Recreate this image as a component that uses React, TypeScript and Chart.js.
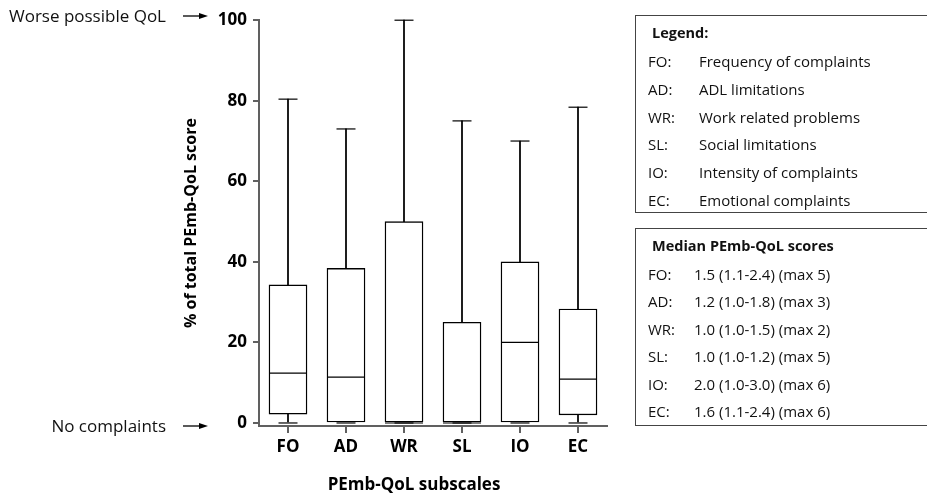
import React, { useEffect, useRef } from 'react';
import { Chart, registerables } from 'chart.js';

Chart.register(...registerables);

const categories = ['FO', 'AD', 'WR', 'SL', 'IO', 'EC'];
const minValues = [0, 0, 0, 0, 0, 0];
const q1Values = [2.2, 0, 0, 0, 0, 2.0];
const medianValues = [12.4, 11.4, 0, 0, 20, 10.9];
const q3Values = [34.3, 38.4, 50, 25, 40, 28.3];
const maxValues = [80.4, 73, 100, 75, 70, 78.4];
const yTickValues = [0, 20, 40, 60, 80, 100];

const legendNames = [
  'Frequency of complaints',
  'ADL limitations',
  'Work related problems',
  'Social limitations',
  'Intensity of complaints',
  'Emotional complaints',
];
const medianScores = [
  '1.5 (1.1-2.4) (max 5)',
  '1.2 (1.0-1.8) (max 3)',
  '1.0 (1.0-1.5) (max 2)',
  '1.0 (1.0-1.2) (max 5)',
  '2.0 (1.0-3.0) (max 6)',
  '1.6 (1.1-2.4) (max 6)',
];

const FONT = '"Open Sans", "DejaVu Sans", sans-serif';
const AXIS_COLOR = '#606060';

const xTitlePlugin = {
  id: 'xTitlePlugin',
  afterDraw(chart: any) {
    const ctx = chart.ctx;
    ctx.save();
    ctx.font = `bold 17px ${FONT}`;
    ctx.fillStyle = '#000';
    ctx.textAlign = 'center';
    ctx.textBaseline = 'middle';
    ctx.fillText('PEmb-QoL subscales', 414, 485);
    ctx.restore();
  },
};

const abs = (left: number, top: number, extra: React.CSSProperties = {}): React.CSSProperties => ({
  position: 'absolute',
  left,
  top,
  whiteSpace: 'nowrap',
  lineHeight: '20px',
  ...extra,
});

export default function App() {
  const canvasRef = useRef<HTMLCanvasElement | null>(null);

  useEffect(() => {
    if (!canvasRef.current) return;
    const capStyle = {
      type: 'line',
      showLine: false,
      pointStyle: 'line',
      pointBorderWidth: 1.2,
      borderColor: '#000',
      pointBorderColor: '#000',
      clip: false,
      order: 0,
    };
    const chart = new Chart(canvasRef.current, {
      type: 'bar',
      data: {
        labels: categories,
        datasets: [
          { ...capStyle, label: 'Median', data: medianValues, pointRadius: 19 } as any,
          { ...capStyle, label: 'Max cap', data: maxValues, pointRadius: 9.5 } as any,
          { ...capStyle, label: 'Min cap', data: minValues, pointRadius: 9.5 } as any,
          {
            type: 'bar',
            label: 'IQR',
            data: categories.map((_, i) => [q1Values[i], q3Values[i]]),
            backgroundColor: '#fff',
            borderColor: '#000',
            borderWidth: 1.4,
            borderSkipped: false,
            barThickness: 38,
            grouped: false,
            clip: false,
            order: 1,
          } as any,
          {
            type: 'bar',
            label: 'Upper whisker',
            data: categories.map((_, i) => [q3Values[i], maxValues[i]]),
            backgroundColor: '#000',
            borderWidth: 0,
            barThickness: 1.1,
            grouped: false,
            clip: false,
            order: 2,
          } as any,
          {
            type: 'bar',
            label: 'Lower whisker',
            data: categories.map((_, i) => (q1Values[i] > minValues[i] ? [minValues[i], q1Values[i]] : null)),
            backgroundColor: '#000',
            borderWidth: 0,
            barThickness: 1.1,
            grouped: false,
            clip: false,
            order: 2,
          } as any,
        ],
      },
      options: {
        animation: false,
        responsive: true,
        maintainAspectRatio: false,
        events: [],
        layout: { padding: { left: 178, right: 320, top: 16, bottom: 0 } },
        plugins: {
          legend: { display: false },
          tooltip: { enabled: false },
          title: { display: false },
        },
        scales: {
          x: {
            type: 'category',
            offset: true,
            grid: {
              display: true,
              offset: false,
              drawOnChartArea: false,
              drawTicks: true,
              tickLength: 7,
              color: AXIS_COLOR,
              lineWidth: 2,
            },
            border: { display: true, color: AXIS_COLOR, width: 2 },
            ticks: {
              color: '#000',
              font: { family: FONT, size: 17, weight: 'bold' },
              padding: 4,
              maxRotation: 0,
            },
            afterFit: (s: any) => {
              s.height = 68;
              s.paddingLeft = 0;
              s.paddingRight = 0;
            },
          },
          y: {
            type: 'linear',
            min: -0.75,
            max: 100,
            afterBuildTicks: (s: any) => {
              s.ticks = yTickValues.map((v) => ({ value: v }));
            },
            grid: {
              display: true,
              drawOnChartArea: false,
              drawTicks: true,
              tickLength: 6,
              color: AXIS_COLOR,
              lineWidth: 2,
            },
            border: { display: true, color: AXIS_COLOR, width: 2 },
            ticks: {
              color: '#000',
              font: { family: FONT, size: 17, weight: 'bold' },
              padding: 6,
            },
            title: {
              display: true,
              text: '% of total PEmb-QoL score',
              color: '#000',
              font: { family: FONT, size: 16, weight: 'bold' },
              padding: { top: 4, bottom: 4 },
            },
            afterFit: (s: any) => {
              s.width = 81;
              s.paddingTop = 0;
              s.paddingBottom = 0;
            },
          },
        },
      } as any,
      plugins: [xTitlePlugin],
    });
    return () => chart.destroy();
  }, []);

  const textColor = '#111';
  const rowFont: React.CSSProperties = { fontFamily: FONT, fontSize: 15, color: textColor };
  const headFont: React.CSSProperties = { fontFamily: FONT, fontSize: 14.5, fontWeight: 'bold', color: textColor };

  return (
    <div style={{ position: 'fixed', left: 0, top: 0, width: 927, height: 494, background: '#fff', overflow: 'hidden' }}>
      <canvas ref={canvasRef} />
      <svg width={927} height={494} style={{ position: 'absolute', left: 0, top: 0, pointerEvents: 'none' }}>
        <line x1={183} y1={16} x2={201} y2={16} stroke="#000" strokeWidth={1.3} />
        <polygon points="199,13 208,16 199,19" fill="#000" />
        <line x1={183} y1={426} x2={201} y2={426} stroke="#000" strokeWidth={1.3} />
        <polygon points="199,423 208,426 199,429" fill="#000" />
      </svg>
      <div style={abs(0, 6, { width: 166, textAlign: 'right', fontFamily: FONT, fontSize: 17, color: textColor })}>
        Worse possible QoL
      </div>
      <div style={abs(0, 416, { width: 166, textAlign: 'right', fontFamily: FONT, fontSize: 17, color: textColor })}>
        No complaints
      </div>

      <div
        style={{
          position: 'absolute',
          left: 635,
          top: 15,
          width: 310,
          height: 198,
          border: '1.5px solid #444',
          boxSizing: 'border-box',
        }}
      />
      <div style={abs(652, 23, headFont)}>Legend:</div>
      {categories.map((c, i) => (
        <React.Fragment key={'l' + c}>
          <div style={abs(648, 51 + i * 27.8, rowFont)}>{c}:</div>
          <div style={abs(699, 51 + i * 27.8, rowFont)}>{legendNames[i]}</div>
        </React.Fragment>
      ))}

      <div
        style={{
          position: 'absolute',
          left: 635,
          top: 228,
          width: 310,
          height: 198,
          border: '1.5px solid #444',
          boxSizing: 'border-box',
        }}
      />
      <div style={abs(652, 236, headFont)}>Median PEmb-QoL scores</div>
      {categories.map((c, i) => (
        <React.Fragment key={'m' + c}>
          <div style={abs(648, 263.5 + i * 27.5, rowFont)}>{c}:</div>
          <div style={abs(694, 263.5 + i * 27.5, rowFont)}>{medianScores[i]}</div>
        </React.Fragment>
      ))}
    </div>
  );
}
